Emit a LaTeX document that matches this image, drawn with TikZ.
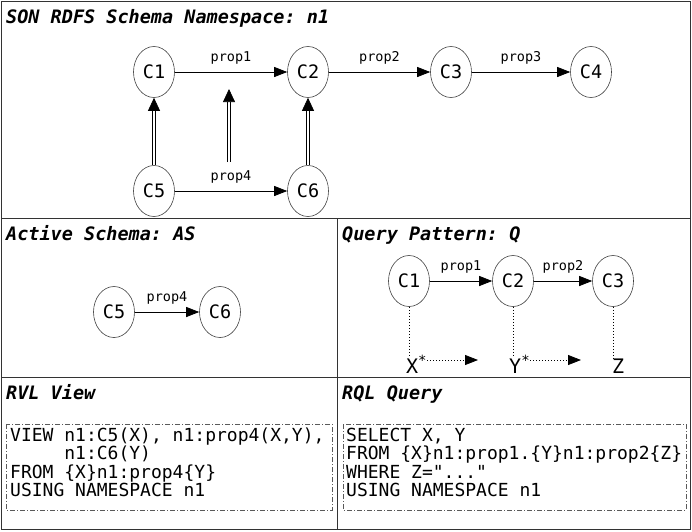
\documentclass[tikz,border=0pt]{standalone}
\usepackage{fontspec}
\setmonofont{DejaVu Sans Mono}
\usetikzlibrary{shapes.geometric,arrows.meta}

\tikzset{
  frame/.style={draw=black!80, line width=1pt},
  paneltitle/.style={inner sep=0pt, anchor=base west, font=\fontsize{18.5}{18.5}\selectfont\ttfamily\bfseries\itshape},
  cls/.style={ellipse, draw=black!75, line width=0.6pt, minimum width=41pt, minimum height=51pt, inner sep=0pt, font=\fontsize{18.5}{18.5}\selectfont\ttfamily},
  proplbl/.style={inner sep=0pt, font=\fontsize{13.5}{13.5}\selectfont\ttfamily},
  rel/.style={-{Triangle[length=13pt,width=10pt]}, line width=0.8pt},
  subcl/.style={-{Triangle[length=13pt,width=12pt]}, double, double distance=2.4pt, line width=0.7pt},
  dots/.style={line width=0.8pt, dash pattern=on 1pt off 2pt},
  dotrel/.style={dots, -{Triangle[length=13pt,width=10pt]}},
  var/.style={inner sep=0pt, anchor=base west, font=\fontsize{20}{20}\selectfont\ttfamily},
  codebox/.style={draw=black!65, line width=0.8pt, dash pattern=on 5pt off 2pt on 1pt off 2pt},
  codeline/.style={inner sep=0pt, anchor=base west, font=\fontsize{18}{18}\selectfont\ttfamily}
}

\begin{document}
\begin{tikzpicture}[x=1pt, y=-1pt]
  \useasboundingbox (0,0) rectangle (692,531);

  % panels
  \draw[frame] (1.5,1.5) rectangle (690,529);
  \draw[frame] (1.5,218) -- (690,218);
  \draw[frame] (1.5,377) -- (690,377);
  \draw[frame] (337,218) -- (337,529);

  \node[paneltitle] (tson) at (6,23) {SON RDFS Schema Namespace: n1};
  \node[paneltitle] (tas) at (6,240) {Active Schema: AS};
  \node[paneltitle] (tqp) at (342,240) {Query Pattern: Q};
  \node[paneltitle] (trvl) at (6,399) {RVL View};
  \node[paneltitle] (trql) at (342,399) {RQL Query};

  % schema namespace
  \node[cls] (c1) at (154,72) {C1};
  \node[cls] (c2) at (308,72) {C2};
  \node[cls] (c3) at (451,72) {C3};
  \node[cls] (c4) at (591,72) {C4};
  \node[cls] (c5) at (154,191) {C5};
  \node[cls] (c6) at (308,191) {C6};

  \draw[rel] (c1) -- (c2) node[proplbl, midway, above=7pt] (p1) {prop1};
  \draw[rel] (c2) -- (c3) node[proplbl, midway, above=7pt] (p2) {prop2};
  \draw[rel] (c3) -- (c4) node[proplbl, midway, above=7pt] (p3) {prop3};
  \draw[rel] (c5) -- (c6) node[proplbl, midway, above=7pt] (p4) {prop4};

  \draw[subcl] (c5) -- (c1);
  \draw[subcl] (c6) -- (c2);
  \coordinate (s4a) at (229,162);
  \coordinate (s4b) at (229,89);
  \draw[subcl] (s4a) -- (s4b);

  % active schema
  \node[cls] (a5) at (114,312) {C5};
  \node[cls] (a6) at (220,312) {C6};
  \draw[rel] (a5) -- (a6) node[proplbl, midway, above=7pt] (ap4) {prop4};

  % query pattern
  \node[cls] (q1) at (409,281) {C1};
  \node[cls] (q2) at (513,281) {C2};
  \node[cls] (q3) at (613,281) {C3};
  \draw[rel] (q1) -- (q2) node[proplbl, midway, above=7pt] (qp1) {prop1};
  \draw[rel] (q2) -- (q3) node[proplbl, midway, above=7pt] (qp2) {prop2};

  \node[var] (vx) at (406,373) {X\textsuperscript{*}};
  \node[var] (vy) at (509,373) {Y\textsuperscript{*}};
  \node[var] (vz) at (612,373) {Z};
  \draw[dots] (q1.south) -- (q1.south |- vx.north);
  \draw[dots] (q2.south) -- (q2.south |- vy.north);
  \draw[dots] (q3.south) -- (q3.south |- vz.north);
  \coordinate (xe) at (478,360);
  \coordinate (ye) at (581,360);
  \draw[dotrel] (vx.east |- xe) -- (xe);
  \draw[dotrel] (vy.east |- ye) -- (ye);

  % RVL view
  \draw[codebox] (6,424) rectangle (332,510);
  \node[codeline] (v1) at (10,441) {VIEW n1:C5(X), n1:prop4(X,Y),};
  \node[codeline] (v2) at (10,459) {\phantom{VIEW }n1:C6(Y)};
  \node[codeline] (v3) at (10,478) {FROM \{X\}n1:prop4\{Y\}};
  \node[codeline] (v4) at (10,496) {USING NAMESPACE n1};

  % RQL query
  \draw[codebox] (343,424) rectangle (686,510);
  \node[codeline] (r1) at (346,441) {SELECT X, Y};
  \node[codeline] (r2) at (346,459) {FROM \{X\}n1:prop1.\{Y\}n1:prop2\{Z\}};
  \node[codeline] (r3) at (346,478) {WHERE Z="..."};
  \node[codeline] (r4) at (346,496) {USING NAMESPACE n1};
\end{tikzpicture}
\end{document}
